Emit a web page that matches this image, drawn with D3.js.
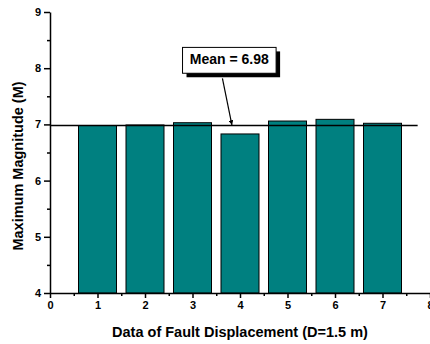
<!DOCTYPE html>
<html>
<head>
<meta charset="utf-8">
<script src="https://cdn.jsdelivr.net/npm/d3@7"></script>
<style>
  body { margin: 0; background: #fff; }
  text { font-family: "Liberation Sans", Arial, sans-serif; font-weight: bold; }
</style>
</head>
<body>
<div id="chart"></div>
<script>
// data
var categories = [1, 2, 3, 4, 5, 6, 7];
var magnitudes = [6.98, 6.99, 7.03, 6.83, 7.06, 7.09, 7.02];
var meanValue = 6.98;
var xTicks = [0, 1, 2, 3, 4, 5, 6, 7, 8];
var yTicks = [4, 5, 6, 7, 8, 9];

var width = 430,
    height = 344,
    margin = {top: 12, right: 0, bottom: 51, left: 50};

var svg = d3.select("#chart")
  .append("svg")
  .attr("width", width)
  .attr("height", height)
  .style("background", "#fff");

var x = d3.scaleLinear().domain([0, 8]).range([margin.left, width - margin.right]);
var y = d3.scaleLinear().domain([4, 9]).range([height - margin.bottom, margin.top]);

// bars
var barW = x(0.8) - x(0);
svg.selectAll("rect.bar")
  .data(categories)
  .enter()
  .append("rect")
  .attr("class", "bar")
  .attr("x", d => x(d) - barW / 2)
  .attr("y", (d, i) => y(magnitudes[i]))
  .attr("width", barW)
  .attr("height", (d, i) => y(4) - y(magnitudes[i]))
  .style("fill", "#008080")
  .style("stroke", "#000")
  .style("stroke-width", 1);

// minor ticks
var xMinor = d3.axisBottom(x).tickValues(d3.range(0.5, 8, 1)).tickSize(3).tickFormat("");
var yMinor = d3.axisLeft(y).tickValues(d3.range(4.5, 9, 1)).tickSize(3).tickFormat("");

// major axes
var xAxis = d3.axisBottom(x).tickValues(xTicks).tickSize(5).tickPadding(3).tickSizeOuter(0).tickFormat(d3.format("d"));
var yAxis = d3.axisLeft(y).tickValues(yTicks).tickSize(6).tickPadding(3).tickSizeOuter(0).tickFormat(d3.format("d"));

var gx = svg.append("g").attr("transform", "translate(0," + y(4) + ")");
gx.call(xAxis);
gx.append("g").call(xMinor).select(".domain").remove();

var gy = svg.append("g").attr("transform", "translate(" + x(0) + ",0)");
gy.call(yAxis);
gy.append("g").call(yMinor).select(".domain").remove();

svg.selectAll(".domain, .tick line")
  .style("stroke", "#000")
  .style("stroke-width", 1.5);
svg.selectAll(".tick text")
  .style("font-size", "11px")
  .style("fill", "#000");

// mean line
svg.append("line")
  .attr("x1", x(0))
  .attr("x2", x(7.74))
  .attr("y1", y(meanValue))
  .attr("y2", y(meanValue))
  .style("stroke", "#000")
  .style("stroke-width", 1.5);

// annotation box with shadow
var box = {x0: 2.79, x1: 4.76, top: 8.37, bottom: 7.91};
svg.append("rect")
  .attr("x", x(box.x0) + 4)
  .attr("y", y(box.top) + 4)
  .attr("width", x(box.x1) - x(box.x0))
  .attr("height", y(box.bottom) - y(box.top))
  .style("fill", "#000");
svg.append("rect")
  .attr("x", x(box.x0))
  .attr("y", y(box.top))
  .attr("width", x(box.x1) - x(box.x0))
  .attr("height", y(box.bottom) - y(box.top))
  .style("fill", "#fff")
  .style("stroke", "#000")
  .style("stroke-width", 1);
svg.append("text")
  .attr("x", (x(box.x0) + x(box.x1)) / 2)
  .attr("y", y(box.top) + 16.5)
  .attr("text-anchor", "middle")
  .style("font-size", "14px")
  .text("Mean = " + meanValue.toFixed(2));

// arrow
svg.append("defs").append("marker")
  .attr("id", "arrow")
  .attr("viewBox", "0 0 10 10")
  .attr("refX", 10)
  .attr("refY", 5)
  .attr("markerWidth", 4)
  .attr("markerHeight", 4)
  .attr("orient", "auto")
  .append("path")
  .attr("d", "M0,0 L10,5 L0,10 z")
  .style("fill", "#000");
svg.append("line")
  .attr("x1", x(3.63))
  .attr("y1", y(box.bottom) + 5)
  .attr("x2", x(3.83))
  .attr("y2", y(meanValue) - 0.5)
  .style("stroke", "#000")
  .style("stroke-width", 1.2)
  .attr("marker-end", "url(#arrow)");

// axis labels
svg.append("text")
  .attr("x", 240)
  .attr("y", 337)
  .attr("text-anchor", "middle")
  .style("font-size", "14.5px")
  .text("Data of Fault Displacement (D=1.5 m)");

svg.append("text")
  .attr("transform", "translate(23," + 166 + ") rotate(-90)")
  .attr("text-anchor", "middle")
  .style("font-size", "14.5px")
  .text("Maximum Magnitude (M)");
</script>
</body>
</html>
